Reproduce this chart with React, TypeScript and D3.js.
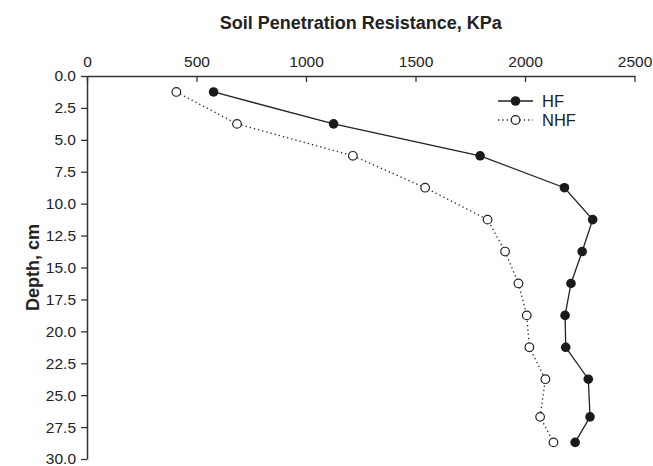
import React, { useEffect, useRef } from 'react';
import * as d3 from 'd3';

const depth = [1.25, 3.75, 6.25, 8.75, 11.25, 13.75, 16.25, 18.75, 21.25, 23.75, 26.7, 28.7];
const hf = [578, 1126, 1795, 2180, 2309, 2261, 2210, 2183, 2186, 2289, 2297, 2229];
const nhf = [408, 685, 1214, 1544, 1829, 1909, 1970, 2008, 2020, 2093, 2069, 2130];
const xTicks = [0, 500, 1000, 1500, 2000, 2500];
const yTicks = [0, 2.5, 5, 7.5, 10, 12.5, 15, 17.5, 20, 22.5, 25, 27.5, 30];

const FONT = '"Liberation Sans", Arial, sans-serif';

const App = () => {
  const svgRef = useRef<SVGSVGElement>(null);

  useEffect(() => {
    const W = 653;
    const H = 466;
    const margin = { top: 76, left: 87, right: 18.5, bottom: 7 };
    const width = W - margin.left - margin.right;
    const height = H - margin.top - margin.bottom;

    const svg = d3.select(svgRef.current).attr('width', W).attr('height', H).html('');
    svg.append('rect').attr('width', W).attr('height', H).attr('fill', '#fff');

    const g = svg.append('g').attr('transform', `translate(${margin.left},${margin.top})`);

    const x = d3.scaleLinear().domain([0, 2500]).range([0, width]);
    const y = d3.scaleLinear().domain([0, 30]).range([0, height]);

    // title
    svg.append('text')
      .attr('x', margin.left + width / 2)
      .attr('y', 28.5)
      .attr('text-anchor', 'middle')
      .style('font-family', FONT)
      .style('font-size', '18px')
      .style('font-weight', 'bold')
      .style('fill', '#222')
      .text('Soil Penetration Resistance, KPa');

    // y label
    svg.append('text')
      .attr('transform', `translate(38.5,${margin.top + height / 2}) rotate(-90)`)
      .attr('text-anchor', 'middle')
      .style('font-family', FONT)
      .style('font-size', '18px')
      .style('font-weight', 'bold')
      .style('fill', '#222')
      .text('Depth, cm');

    // axes
    const xAxis = d3.axisTop(x).tickValues(xTicks).tickSizeInner(-6).tickSizeOuter(0).tickPadding(9)
      .tickFormat(d3.format('d'));
    const yAxis = d3.axisLeft(y).tickValues(yTicks).tickSize(6).tickSizeOuter(0).tickPadding(5)
      .tickFormat(d3.format('.1f'));

    const gx = g.append('g').call(xAxis);
    const gy = g.append('g').call(yAxis);

    [gx, gy].forEach(a => {
      a.selectAll('path.domain').attr('stroke', '#333').attr('stroke-width', 1.5);
      a.selectAll('.tick line').attr('stroke', '#333').attr('stroke-width', 1.3);
      a.selectAll('text')
        .style('font-family', FONT)
        .style('font-size', '15.5px')
        .style('fill', '#222');
    });
    gx.selectAll('text').attr('dy', '0em');

    // lines
    const line = d3.line<number>()
      .x(d => x(d))
      .y((_, i) => y(depth[i]));

    g.append('path')
      .datum(nhf)
      .attr('fill', 'none')
      .attr('stroke', '#222')
      .attr('stroke-width', 1.3)
      .attr('stroke-dasharray', '1.3,3')
      .attr('d', line);

    g.append('path')
      .datum(hf)
      .attr('fill', 'none')
      .attr('stroke', '#222')
      .attr('stroke-width', 1.3)
      .attr('d', line);

    g.selectAll('circle.nhf')
      .data(nhf)
      .join('circle')
      .attr('class', 'nhf')
      .attr('cx', d => x(d))
      .attr('cy', (_, i) => y(depth[i]))
      .attr('r', 4.3)
      .attr('fill', '#fff')
      .attr('stroke', '#222')
      .attr('stroke-width', 1.2);

    g.selectAll('circle.hf')
      .data(hf)
      .join('circle')
      .attr('class', 'hf')
      .attr('cx', d => x(d))
      .attr('cy', (_, i) => y(depth[i]))
      .attr('r', 4.8)
      .attr('fill', '#1a1a1a');

    // legend
    const legend = svg.append('g').attr('transform', 'translate(498,101)');
    const items = [
      { name: 'HF', open: false },
      { name: 'NHF', open: true },
    ];
    items.forEach((it, i) => {
      const row = legend.append('g').attr('transform', `translate(0,${i * 19})`);
      row.append('line')
        .attr('x1', 0).attr('x2', 35)
        .attr('stroke', '#222')
        .attr('stroke-width', 1.3)
        .attr('stroke-dasharray', it.open ? '1.3,3' : null);
      row.append('circle')
        .attr('cx', 17.5)
        .attr('r', it.open ? 4.3 : 4.8)
        .attr('fill', it.open ? '#fff' : '#1a1a1a')
        .attr('stroke', it.open ? '#222' : 'none')
        .attr('stroke-width', 1.2);
      row.append('text')
        .attr('x', 44)
        .attr('dy', '0.36em')
        .style('font-family', FONT)
        .style('font-size', '16.5px')
        .style('fill', '#222')
        .text(it.name);
    });
  }, []);

  return (
    <svg ref={svgRef} style={{ position: 'absolute', left: 0, top: 0, display: 'block' }}></svg>
  );
};

export default App;
